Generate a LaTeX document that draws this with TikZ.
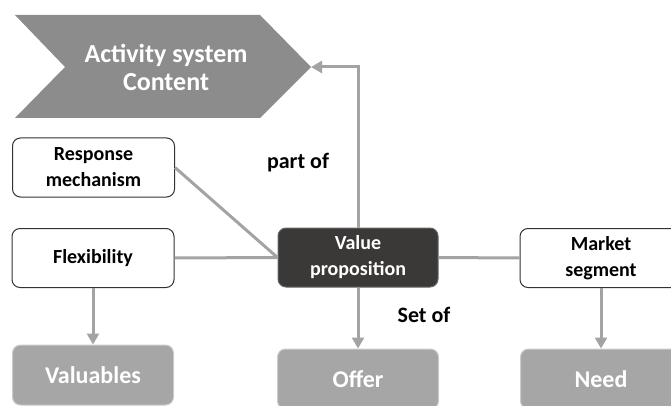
\documentclass[tikz,border=0pt]{standalone}
\usepackage{fontspec}
\setmainfont{Carlito}
\usetikzlibrary{arrows.meta}

\definecolor{linegray}{HTML}{A3A3A3}
\definecolor{chevgray}{HTML}{8C8C8C}
\definecolor{boxgray}{HTML}{A6A6A6}
\definecolor{darkbox}{HTML}{3B3838}

\begin{document}
\begin{tikzpicture}[
    x=1pt, y=-1pt,
    link/.style={draw=linegray, line width=3pt},
    arrow/.style={link, -{Triangle[length=11pt, width=12pt]}},
    whitebox/.style={draw=black!80, line width=1pt, fill=white, rounded corners=8pt,
        minimum width=162pt, minimum height=59pt, align=center,
        font=\fontsize{20}{26}\selectfont\bfseries},
    darkbox/.style={whitebox, draw=black!60, fill=darkbox, text=white, minimum width=160pt},
    graybox/.style={whitebox, draw=black!20, fill=boxgray, text=white,
        minimum width=161pt, minimum height=60pt, font=\fontsize{24}{28}\selectfont\bfseries},
    linklabel/.style={font=\fontsize{22}{26}\selectfont\bfseries}
]
    \useasboundingbox (0,0) rectangle (671,406);

    % --- CHEVRON (top) ---
    \coordinate (C0) at (15,15);
    \coordinate (C1) at (260,15);
    \coordinate (tip) at (311,67);
    \coordinate (C3) at (260,118);
    \coordinate (C4) at (15,118);
    \coordinate (C5) at (65,67);
    \fill[chevgray] (C0) -- (C1) -- (tip) -- (C3) -- (C4) -- (C5) -- cycle;
    \node[text=white, align=center, font=\fontsize{26}{28}\selectfont\bfseries]
        (content) at (166,67) {Activity system\\Content};

    % --- BOXES ---
    \node[whitebox] (response) at (93.5,167.5) {Response\\mechanism};
    \node[whitebox] (flex) at (93,258) {Flexibility};
    \node[darkbox] (vp) at (358,257.5) {Value\\proposition};
    \node[whitebox] (market) at (601,258) {Market\\segment};

    \node[graybox] (valuables) at (93,375) {Valuables};
    \node[graybox] (offer) at (358,379) {Offer};
    \node[graybox] (need) at (601,379) {Need};

    % --- CONNECTORS ---
    \draw[link] (response.east) -- (vp.west);
    \draw[link] (flex) -- (vp);
    \draw[link] (vp) -- (market);
    \draw[arrow] (vp.north) |- (tip);

    \draw[arrow] (flex.south) -- (valuables.north);
    \draw[arrow] (vp.south) -- (offer.north);
    \draw[arrow] (market.south) -- (need.north);

    % --- LABELS ---
    \node[linklabel] (partof) at (298,163) {part of};
    \node[linklabel] (setof) at (424,315) {Set of};

\end{tikzpicture}
\end{document}
